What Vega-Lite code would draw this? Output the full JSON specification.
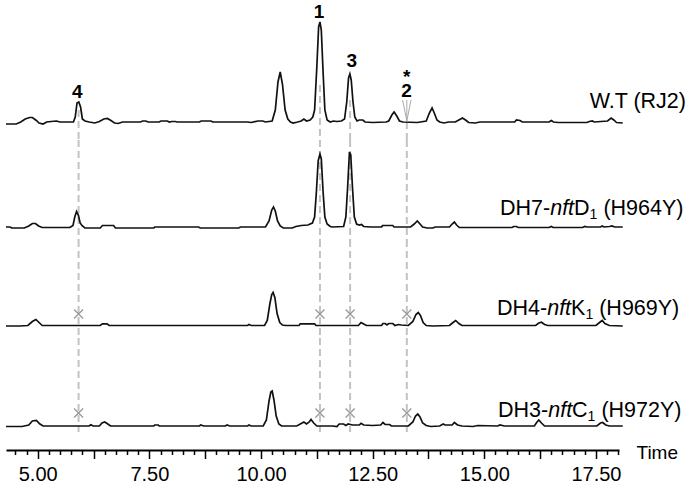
{
  "$schema": "https://vega.github.io/schema/vega-lite/v6.json",
  "padding": {"left": 2, "top": 0, "right": 3, "bottom": 0},
  "background": "white",
  "spacing": 0,
  "bounds": "flush",
  "resolve": {"scale": {"y": "independent", "x": "shared"}},
  "config": {"view": {"stroke": null}, "font": "Liberation Sans"},
  "datasets": {
    "wt": [{"t":4.29,"v":-2},{"t":4.52,"v":-2},{"t":4.62,"v":0},{"t":4.72,"v":3},{"t":4.82,"v":4.5},{"t":4.88,"v":4.5},{"t":4.97,"v":1.5},{"t":5.03,"v":-1},{"t":5.12,"v":-2},{"t":5.2,"v":0},{"t":5.3,"v":0.5},{"t":5.42,"v":1},{"t":5.5,"v":0},{"t":5.8,"v":0},{"t":5.84,"v":5},{"t":5.88,"v":19},{"t":5.92,"v":20},{"t":5.96,"v":15},{"t":6.0,"v":3},{"t":6.06,"v":1},{"t":6.15,"v":0},{"t":6.28,"v":-1},{"t":6.38,"v":0.5},{"t":6.48,"v":3},{"t":6.56,"v":3.5},{"t":6.64,"v":1.5},{"t":6.72,"v":-1},{"t":6.8,"v":-1.5},{"t":6.9,"v":0},{"t":7.3,"v":0},{"t":7.35,"v":1},{"t":7.42,"v":1},{"t":7.47,"v":0},{"t":7.72,"v":0},{"t":7.76,"v":1},{"t":7.9,"v":1},{"t":7.95,"v":0},{"t":8.0,"v":0.5},{"t":8.08,"v":0.5},{"t":8.12,"v":0},{"t":8.62,"v":0},{"t":8.66,"v":1},{"t":8.88,"v":1},{"t":8.92,"v":0},{"t":9.7,"v":0},{"t":9.78,"v":-0.5},{"t":9.93,"v":1},{"t":10.04,"v":1},{"t":10.1,"v":0},{"t":10.25,"v":1},{"t":10.32,"v":12},{"t":10.38,"v":40},{"t":10.43,"v":50},{"t":10.48,"v":38},{"t":10.54,"v":12},{"t":10.6,"v":3},{"t":10.66,"v":0},{"t":10.72,"v":-1},{"t":10.82,"v":0},{"t":10.9,"v":1},{"t":10.96,"v":3},{"t":11.02,"v":1},{"t":11.1,"v":2},{"t":11.16,"v":5},{"t":11.2,"v":12},{"t":11.25,"v":55},{"t":11.29,"v":95},{"t":11.32,"v":100},{"t":11.35,"v":92},{"t":11.39,"v":50},{"t":11.43,"v":12},{"t":11.48,"v":2},{"t":11.55,"v":0},{"t":11.62,"v":1},{"t":11.7,"v":0.5},{"t":11.8,"v":1},{"t":11.87,"v":3},{"t":11.92,"v":20},{"t":11.96,"v":44},{"t":11.99,"v":48},{"t":12.02,"v":42},{"t":12.06,"v":20},{"t":12.1,"v":5},{"t":12.15,"v":1},{"t":12.2,"v":2},{"t":12.28,"v":2},{"t":12.33,"v":0},{"t":12.5,"v":-0.5},{"t":12.8,"v":0},{"t":12.86,"v":1},{"t":12.93,"v":7},{"t":12.98,"v":10},{"t":13.04,"v":6},{"t":13.1,"v":1},{"t":13.18,"v":0},{"t":13.5,"v":-0.5},{"t":13.7,"v":1},{"t":13.77,"v":9},{"t":13.83,"v":14},{"t":13.88,"v":9},{"t":13.94,"v":2},{"t":14.0,"v":0},{"t":14.1,"v":-1},{"t":14.2,"v":0},{"t":14.35,"v":0},{"t":14.43,"v":2},{"t":14.51,"v":4},{"t":14.58,"v":2},{"t":14.65,"v":-0.5},{"t":14.8,"v":-1},{"t":14.9,"v":0},{"t":15.68,"v":0},{"t":15.72,"v":2},{"t":15.8,"v":1.5},{"t":15.85,"v":0},{"t":16.45,"v":0},{"t":16.5,"v":1.5},{"t":16.55,"v":0},{"t":16.65,"v":-0.5},{"t":17.3,"v":-0.5},{"t":17.35,"v":0.5},{"t":17.42,"v":1},{"t":17.46,"v":0},{"t":17.76,"v":1},{"t":17.84,"v":4},{"t":17.9,"v":2},{"t":17.96,"v":-0.5},{"t":18.1,"v":-1}],
    "dh7": [{"t":4.29,"v":0},{"t":4.38,"v":0},{"t":4.42,"v":-1},{"t":4.7,"v":-1},{"t":4.8,"v":1},{"t":4.88,"v":3.5},{"t":4.95,"v":3.5},{"t":5.02,"v":1},{"t":5.1,"v":-0.5},{"t":5.72,"v":-0.5},{"t":5.79,"v":1.5},{"t":5.83,"v":10},{"t":5.87,"v":15.5},{"t":5.91,"v":12},{"t":5.95,"v":4},{"t":6.0,"v":1},{"t":6.06,"v":-1},{"t":6.4,"v":-1},{"t":6.45,"v":1.5},{"t":6.7,"v":1.5},{"t":6.74,"v":-1},{"t":7.6,"v":-1},{"t":7.62,"v":0},{"t":8.6,"v":0},{"t":8.64,"v":-1},{"t":9.5,"v":-1},{"t":9.54,"v":0},{"t":10.1,"v":0},{"t":10.18,"v":6},{"t":10.24,"v":17},{"t":10.28,"v":20},{"t":10.32,"v":16},{"t":10.37,"v":6},{"t":10.43,"v":1},{"t":10.5,"v":-1},{"t":10.7,"v":-1},{"t":10.78,"v":0.5},{"t":10.9,"v":1.5},{"t":11.05,"v":2},{"t":11.15,"v":4},{"t":11.2,"v":10},{"t":11.24,"v":35},{"t":11.28,"v":66},{"t":11.32,"v":73},{"t":11.35,"v":68},{"t":11.39,"v":35},{"t":11.43,"v":10},{"t":11.48,"v":3},{"t":11.55,"v":0.5},{"t":11.6,"v":0},{"t":11.85,"v":0.5},{"t":11.9,"v":10},{"t":11.94,"v":40},{"t":11.98,"v":75},{"t":12.01,"v":72},{"t":12.05,"v":38},{"t":12.09,"v":10},{"t":12.14,"v":3},{"t":12.2,"v":2},{"t":12.25,"v":2.5},{"t":12.3,"v":0.5},{"t":12.45,"v":0},{"t":12.7,"v":0},{"t":12.72,"v":1.5},{"t":12.95,"v":1.5},{"t":12.98,"v":0},{"t":13.35,"v":0},{"t":13.43,"v":3},{"t":13.5,"v":6},{"t":13.56,"v":3},{"t":13.62,"v":0},{"t":13.72,"v":-1},{"t":13.85,"v":-1},{"t":13.9,"v":0},{"t":14.22,"v":0},{"t":14.28,"v":3},{"t":14.33,"v":5},{"t":14.38,"v":2},{"t":14.44,"v":-0.5},{"t":15.62,"v":-0.5},{"t":15.66,"v":0.5},{"t":15.72,"v":0.5},{"t":15.76,"v":-0.5},{"t":16.45,"v":-0.5},{"t":16.5,"v":0.5},{"t":16.54,"v":-0.5},{"t":17.2,"v":-0.5},{"t":17.25,"v":0.5},{"t":17.3,"v":0},{"t":17.6,"v":0},{"t":17.64,"v":1},{"t":17.68,"v":0},{"t":17.8,"v":0.5},{"t":17.86,"v":1},{"t":17.92,"v":0},{"t":18.1,"v":0}],
    "dh4": [{"t":4.29,"v":-0.5},{"t":4.6,"v":-0.5},{"t":4.78,"v":0},{"t":4.88,"v":4},{"t":4.96,"v":6},{"t":5.03,"v":3},{"t":5.1,"v":0},{"t":6.4,"v":0},{"t":6.45,"v":1.7},{"t":6.55,"v":1.7},{"t":6.6,"v":0},{"t":9.7,"v":0},{"t":9.73,"v":1},{"t":9.78,"v":0},{"t":10.08,"v":0},{"t":10.14,"v":5},{"t":10.2,"v":22},{"t":10.24,"v":31},{"t":10.27,"v":33},{"t":10.31,"v":28},{"t":10.36,"v":12},{"t":10.42,"v":3},{"t":10.48,"v":0.5},{"t":10.55,"v":0},{"t":10.85,"v":0},{"t":10.88,"v":1.7},{"t":11.2,"v":1.7},{"t":11.23,"v":0},{"t":12.18,"v":0},{"t":12.24,"v":3},{"t":12.3,"v":1.5},{"t":12.36,"v":0},{"t":12.7,"v":0},{"t":12.73,"v":2},{"t":12.78,"v":2},{"t":12.82,"v":0.5},{"t":12.86,"v":2},{"t":12.95,"v":2},{"t":13.0,"v":0},{"t":13.08,"v":1},{"t":13.14,"v":0.5},{"t":13.3,"v":0},{"t":13.4,"v":4},{"t":13.47,"v":11},{"t":13.52,"v":13},{"t":13.57,"v":10},{"t":13.63,"v":3},{"t":13.7,"v":0},{"t":13.85,"v":-0.5},{"t":14.22,"v":0},{"t":14.3,"v":3},{"t":14.36,"v":5},{"t":14.43,"v":2},{"t":14.5,"v":0},{"t":16.15,"v":0},{"t":16.22,"v":2.5},{"t":16.28,"v":3.3},{"t":16.35,"v":1},{"t":16.42,"v":0},{"t":17.5,"v":0},{"t":17.58,"v":3},{"t":17.64,"v":5},{"t":17.7,"v":2},{"t":17.8,"v":0},{"t":18.1,"v":-0.5}],
    "dh3": [{"t":4.29,"v":-0.5},{"t":4.65,"v":-0.5},{"t":4.8,"v":1},{"t":4.88,"v":5},{"t":4.97,"v":5.5},{"t":5.05,"v":2},{"t":5.12,"v":0},{"t":6.15,"v":0},{"t":6.19,"v":1.3},{"t":6.24,"v":0},{"t":6.38,"v":0},{"t":6.44,"v":3},{"t":6.5,"v":4},{"t":6.57,"v":2},{"t":6.63,"v":0},{"t":7.6,"v":0},{"t":7.62,"v":1},{"t":7.7,"v":1},{"t":7.72,"v":0},{"t":8.62,"v":0},{"t":8.65,"v":1},{"t":8.72,"v":0},{"t":9.2,"v":0},{"t":9.24,"v":1},{"t":9.3,"v":0},{"t":9.7,"v":0},{"t":9.73,"v":1},{"t":9.78,"v":0},{"t":10.05,"v":0},{"t":10.12,"v":6},{"t":10.18,"v":25},{"t":10.22,"v":34},{"t":10.25,"v":35},{"t":10.29,"v":26},{"t":10.34,"v":10},{"t":10.4,"v":2},{"t":10.46,"v":0},{"t":10.8,"v":0},{"t":10.88,"v":2},{"t":10.96,"v":4},{"t":11.02,"v":2},{"t":11.08,"v":4},{"t":11.12,"v":6.5},{"t":11.18,"v":3},{"t":11.25,"v":0},{"t":11.6,"v":0},{"t":11.7,"v":-0.5},{"t":11.75,"v":2},{"t":11.85,"v":2},{"t":11.9,"v":0.5},{"t":11.95,"v":2},{"t":12.05,"v":1},{"t":12.2,"v":1},{"t":12.24,"v":2.7},{"t":12.3,"v":1},{"t":12.5,"v":0.5},{"t":12.68,"v":1},{"t":12.73,"v":3.5},{"t":12.78,"v":1.5},{"t":12.88,"v":1.5},{"t":12.92,"v":0},{"t":13.3,"v":0},{"t":13.4,"v":4},{"t":13.46,"v":10},{"t":13.51,"v":12},{"t":13.56,"v":9},{"t":13.62,"v":3},{"t":13.7,"v":0.5},{"t":13.8,"v":-0.5},{"t":14.0,"v":0},{"t":14.08,"v":2},{"t":14.12,"v":1},{"t":14.28,"v":1},{"t":14.33,"v":3.5},{"t":14.4,"v":1},{"t":14.5,"v":0},{"t":14.75,"v":-0.5},{"t":14.85,"v":0.5},{"t":15.3,"v":0},{"t":15.35,"v":1},{"t":15.45,"v":0},{"t":16.12,"v":0},{"t":16.18,"v":4},{"t":16.22,"v":6},{"t":16.28,"v":3},{"t":16.35,"v":0},{"t":17.52,"v":0},{"t":17.6,"v":3},{"t":17.65,"v":3.5},{"t":17.72,"v":1},{"t":17.8,"v":0},{"t":18.1,"v":0}],
    "guides": [{"peak":"4","t":5.915,"top":12},{"peak":"1","t":11.32,"top":37},{"peak":"3","t":11.995,"top":22},{"peak":"2","t":13.265,"top":0}],
    "peaklabels": [{"label":"4","t":5.885,"y":24},{"label":"1","t":11.3,"y":104.5},{"label":"3","t":12.03,"y":55},{"label":"*\n2","t":13.26,"y":39}],
    "arrow": [{"t":13.265,"from":22,"to":1.5}],
    "tags": [{"trace":"WT","part":1,"text":"W.T (RJ2)"},
      {"trace":"DH7","part":1,"text":"DH7-"},{"trace":"DH7","part":2,"text":"nft"},{"trace":"DH7","part":3,"text":"D"},{"trace":"DH7","part":4,"text":"1"},{"trace":"DH7","part":5,"text":"(H964Y)"},
      {"trace":"DH4","part":1,"text":"DH4-"},{"trace":"DH4","part":2,"text":"nft"},{"trace":"DH4","part":3,"text":"K"},{"trace":"DH4","part":4,"text":"1"},{"trace":"DH4","part":5,"text":"(H969Y)"},
      {"trace":"DH3","part":1,"text":"DH3-"},{"trace":"DH3","part":2,"text":"nft"},{"trace":"DH3","part":3,"text":"C"},{"trace":"DH3","part":4,"text":"1"},{"trace":"DH3","part":5,"text":"(H972Y)"}]
  },
  "vconcat": [
    {
      "width": 613, "height": 140,
      "layer": [
        {"data": {"name": "guides"}, "mark": {"type": "rule", "strokeDash": [7, 4], "color": "#c3c3c3", "strokeWidth": 2},
         "encoding": {"x": {"field": "t", "type": "quantitative", "scale": {"domain": [4.29, 18.016], "nice": false, "zero": false}, "axis": null},
                      "y": {"field": "top", "type": "quantitative", "scale": {"domain": [-18, 122], "nice": false, "zero": false}, "axis": null},
                      "y2": {"datum": -18}}},
        {"data": {"name": "arrow"}, "mark": {"type": "rule", "color": "#aaaaaa", "strokeWidth": 1},
         "encoding": {"x": {"field": "t", "type": "quantitative"}, "y": {"field": "from", "type": "quantitative"}, "y2": {"field": "to"}}},
        {"data": {"name": "arrow"}, "mark": {"type": "point", "shape": "M-0.4,-1L0,1L0.4,-1", "size": 441, "filled": false, "stroke": "#aaaaaa", "strokeWidth": 1, "opacity": 1},
         "encoding": {"x": {"field": "t", "type": "quantitative"}, "y": {"datum": 11.5}}},
        {"data": {"name": "wt"}, "mark": {"type": "line", "color": "#111111", "strokeWidth": 1.7, "strokeJoin": "miter"},
         "encoding": {"x": {"field": "t", "type": "quantitative"}, "y": {"field": "v", "type": "quantitative"}}},
        {"data": {"name": "peaklabels"}, "mark": {"type": "text", "font": "Liberation Sans", "fontSize": 19, "fontWeight": "bold", "baseline": "alphabetic", "align": "center", "color": "#000000", "lineBreak": "\n", "lineHeight": 14},
         "encoding": {"x": {"field": "t", "type": "quantitative"}, "y": {"field": "y", "type": "quantitative"}, "text": {"field": "label"}}},
        {"data": {"name": "tags"}, "transform": [{"filter": "datum.trace == 'WT'"}],
         "mark": {"type": "text", "font": "Liberation Sans", "fontSize": 21.5, "align": "right", "baseline": "alphabetic", "color": "#000000"},
         "encoding": {"x": {"datum": 19.516}, "y": {"datum": 14}, "text": {"field": "text"}}}
      ]
    },
    {
      "width": 613, "height": 100,
      "layer": [
        {"data": {"name": "guides"}, "mark": {"type": "rule", "strokeDash": [7, 4], "color": "#c3c3c3", "strokeWidth": 2},
         "encoding": {"x": {"field": "t", "type": "quantitative", "scale": {"domain": [4.29, 18.016], "nice": false, "zero": false}, "axis": null}}},
        {"data": {"name": "dh7"}, "mark": {"type": "line", "color": "#111111", "strokeWidth": 1.7, "strokeJoin": "miter"},
         "encoding": {"x": {"field": "t", "type": "quantitative"}, "y": {"field": "v", "type": "quantitative", "scale": {"domain": [-13, 87], "nice": false, "zero": false}, "axis": null}}},
        {"data": {"name": "tags"}, "transform": [{"filter": "datum.trace == 'DH7' && datum.part == 1"}],
         "mark": {"type": "text", "font": "Liberation Sans", "fontSize": 21.5, "align": "left", "baseline": "alphabetic", "color": "#000000", "dx": 0},
         "encoding": {"x": {"datum": 15.351}, "y": {"datum": 12}, "text": {"field": "text"}}},
        {"data": {"name": "tags"}, "transform": [{"filter": "datum.trace == 'DH7' && datum.part == 2"}],
         "mark": {"type": "text", "font": "Liberation Sans", "fontSize": 21.5, "fontStyle": "italic", "align": "left", "baseline": "alphabetic", "color": "#000000", "dx": 50.2},
         "encoding": {"x": {"datum": 15.351}, "y": {"datum": 12}, "text": {"field": "text"}}},
        {"data": {"name": "tags"}, "transform": [{"filter": "datum.trace == 'DH7' && datum.part == 3"}],
         "mark": {"type": "text", "font": "Liberation Sans", "fontSize": 21.5, "align": "left", "baseline": "alphabetic", "color": "#000000", "dx": 74.1},
         "encoding": {"x": {"datum": 15.351}, "y": {"datum": 12}, "text": {"field": "text"}}},
        {"data": {"name": "tags"}, "transform": [{"filter": "datum.trace == 'DH7' && datum.part == 4"}],
         "mark": {"type": "text", "font": "Liberation Sans", "fontSize": 14, "align": "left", "baseline": "alphabetic", "color": "#000000", "dx": 89.6, "dy": 4},
         "encoding": {"x": {"datum": 15.351}, "y": {"datum": 12}, "text": {"field": "text"}}},
        {"data": {"name": "tags"}, "transform": [{"filter": "datum.trace == 'DH7' && datum.part == 5"}],
         "mark": {"type": "text", "font": "Liberation Sans", "fontSize": 21.5, "align": "left", "baseline": "alphabetic", "color": "#000000", "dx": 103.4},
         "encoding": {"x": {"datum": 15.351}, "y": {"datum": 12}, "text": {"field": "text"}}}
      ]
    },
    {
      "width": 613, "height": 98,
      "layer": [
        {"data": {"name": "guides"}, "mark": {"type": "rule", "strokeDash": [7, 4], "color": "#c3c3c3", "strokeWidth": 2},
         "encoding": {"x": {"field": "t", "type": "quantitative", "scale": {"domain": [4.29, 18.016], "nice": false, "zero": false}, "axis": null}}},
        {"data": {"name": "guides"}, "mark": {"type": "point", "shape": "M-1,-1L1,1M1,-1L-1,1", "size": 81, "filled": false, "stroke": "#999999", "strokeWidth": 1.3, "opacity": 1},
         "encoding": {"x": {"field": "t", "type": "quantitative"}, "y": {"datum": 11.5, "scale": {"domain": [-12.5, 85.5], "nice": false, "zero": false}, "axis": null}}},
        {"data": {"name": "dh4"}, "mark": {"type": "line", "color": "#111111", "strokeWidth": 1.7, "strokeJoin": "miter"},
         "encoding": {"x": {"field": "t", "type": "quantitative"}, "y": {"field": "v", "type": "quantitative"}}},
        {"data": {"name": "tags"}, "transform": [{"filter": "datum.trace == 'DH4' && datum.part == 1"}],
         "mark": {"type": "text", "font": "Liberation Sans", "fontSize": 21.5, "align": "left", "baseline": "alphabetic", "color": "#000000", "dx": 0},
         "encoding": {"x": {"datum": 15.284}, "y": {"datum": 10.5}, "text": {"field": "text"}}},
        {"data": {"name": "tags"}, "transform": [{"filter": "datum.trace == 'DH4' && datum.part == 2"}],
         "mark": {"type": "text", "font": "Liberation Sans", "fontSize": 21.5, "fontStyle": "italic", "align": "left", "baseline": "alphabetic", "color": "#000000", "dx": 50.2},
         "encoding": {"x": {"datum": 15.284}, "y": {"datum": 10.5}, "text": {"field": "text"}}},
        {"data": {"name": "tags"}, "transform": [{"filter": "datum.trace == 'DH4' && datum.part == 3"}],
         "mark": {"type": "text", "font": "Liberation Sans", "fontSize": 21.5, "align": "left", "baseline": "alphabetic", "color": "#000000", "dx": 74.1},
         "encoding": {"x": {"datum": 15.284}, "y": {"datum": 10.5}, "text": {"field": "text"}}},
        {"data": {"name": "tags"}, "transform": [{"filter": "datum.trace == 'DH4' && datum.part == 4"}],
         "mark": {"type": "text", "font": "Liberation Sans", "fontSize": 14, "align": "left", "baseline": "alphabetic", "color": "#000000", "dx": 88.4, "dy": 4},
         "encoding": {"x": {"datum": 15.284}, "y": {"datum": 10.5}, "text": {"field": "text"}}},
        {"data": {"name": "tags"}, "transform": [{"filter": "datum.trace == 'DH4' && datum.part == 5"}],
         "mark": {"type": "text", "font": "Liberation Sans", "fontSize": 21.5, "align": "left", "baseline": "alphabetic", "color": "#000000", "dx": 102.2},
         "encoding": {"x": {"datum": 15.284}, "y": {"datum": 10.5}, "text": {"field": "text"}}}
      ]
    },
    {
      "width": 613, "height": 112,
      "resolve": {"axis": {"x": "independent"}},
      "layer": [
        {"data": {"name": "guides"}, "mark": {"type": "rule", "strokeDash": [7, 4], "color": "#c3c3c3", "strokeWidth": 2},
         "encoding": {"x": {"field": "t", "type": "quantitative",
                            "scale": {"domain": [4.29, 18.016], "nice": false, "zero": false},
                            "axis": {"title": "Time", "grid": false, "orient": "bottom",
                                     "values": [5,6.25,7.5,8.75,10,11.25,12.5,13.75,15,16.25,17.5],
                                     "labelExpr": "datum.value % 2.5 == 0 ? format(datum.value, '.2f') : ''",
                                     "labelOverlap": false, "labelFlush": false,
                                     "labelFont": "Liberation Sans", "labelFontSize": 20, "labelColor": "#000000", "labelPadding": 5.5,
                                     "domainColor": "#000000", "domainWidth": 2,
                                     "tickColor": "#000000", "tickWidth": 1.5, "tickSize": 8.5,
                                     "titleFont": "Liberation Sans", "titleFontSize": 19, "titleFontWeight": "normal", "titleColor": "#000000",
                                     "titleAngle": 0, "titleAlign": "left", "titleBaseline": "alphabetic", "titleX": 630, "titleY": 8}},
                      "y": {"datum": 88, "scale": {"domain": [-24, 88], "nice": false, "zero": false}, "axis": null},
                      "y2": {"datum": -6}}},
        {"data": {"name": "guides"}, "mark": {"type": "point", "shape": "M-1,-1L1,1M1,-1L-1,1", "size": 81, "filled": false, "stroke": "#999999", "strokeWidth": 1.3, "opacity": 1},
         "encoding": {"x": {"field": "t", "type": "quantitative",
                            "axis": {"title": null, "orient": "bottom", "grid": false, "labels": false, "domain": false,
                                     "values": [4.5,4.75,5.25,5.5,5.75,6,6.5,6.75,7,7.25,7.75,8,8.25,8.5,9,9.25,9.5,9.75,10.25,10.5,10.75,11,11.5,11.75,12,12.25,12.75,13,13.25,13.5,14,14.25,14.5,14.75,15.25,15.5,15.75,16,16.5,16.75,17,17.25,17.75,18],
                                     "tickColor": "#000000", "tickWidth": 1.5, "tickSize": 4.5}},
                      "y": {"datum": 13}}},
        {"data": {"name": "dh3"}, "mark": {"type": "line", "color": "#111111", "strokeWidth": 1.7, "strokeJoin": "miter"},
         "encoding": {"x": {"field": "t", "type": "quantitative", "axis": null}, "y": {"field": "v", "type": "quantitative"}}},
        {"data": {"name": "tags"}, "transform": [{"filter": "datum.trace == 'DH3' && datum.part == 1"}],
         "mark": {"type": "text", "font": "Liberation Sans", "fontSize": 21.5, "align": "left", "baseline": "alphabetic", "color": "#000000", "dx": 0},
         "encoding": {"x": {"datum": 15.307, "axis": null}, "y": {"datum": 9.3}, "text": {"field": "text"}}},
        {"data": {"name": "tags"}, "transform": [{"filter": "datum.trace == 'DH3' && datum.part == 2"}],
         "mark": {"type": "text", "font": "Liberation Sans", "fontSize": 21.5, "fontStyle": "italic", "align": "left", "baseline": "alphabetic", "color": "#000000", "dx": 50.2},
         "encoding": {"x": {"datum": 15.307, "axis": null}, "y": {"datum": 9.3}, "text": {"field": "text"}}},
        {"data": {"name": "tags"}, "transform": [{"filter": "datum.trace == 'DH3' && datum.part == 3"}],
         "mark": {"type": "text", "font": "Liberation Sans", "fontSize": 21.5, "align": "left", "baseline": "alphabetic", "color": "#000000", "dx": 74.1},
         "encoding": {"x": {"datum": 15.307, "axis": null}, "y": {"datum": 9.3}, "text": {"field": "text"}}},
        {"data": {"name": "tags"}, "transform": [{"filter": "datum.trace == 'DH3' && datum.part == 4"}],
         "mark": {"type": "text", "font": "Liberation Sans", "fontSize": 14, "align": "left", "baseline": "alphabetic", "color": "#000000", "dx": 89.6, "dy": 4},
         "encoding": {"x": {"datum": 15.307, "axis": null}, "y": {"datum": 9.3}, "text": {"field": "text"}}},
        {"data": {"name": "tags"}, "transform": [{"filter": "datum.trace == 'DH3' && datum.part == 5"}],
         "mark": {"type": "text", "font": "Liberation Sans", "fontSize": 21.5, "align": "left", "baseline": "alphabetic", "color": "#000000", "dx": 103.4},
         "encoding": {"x": {"datum": 15.307, "axis": null}, "y": {"datum": 9.3}, "text": {"field": "text"}}}
      ]
    }
  ]
}
